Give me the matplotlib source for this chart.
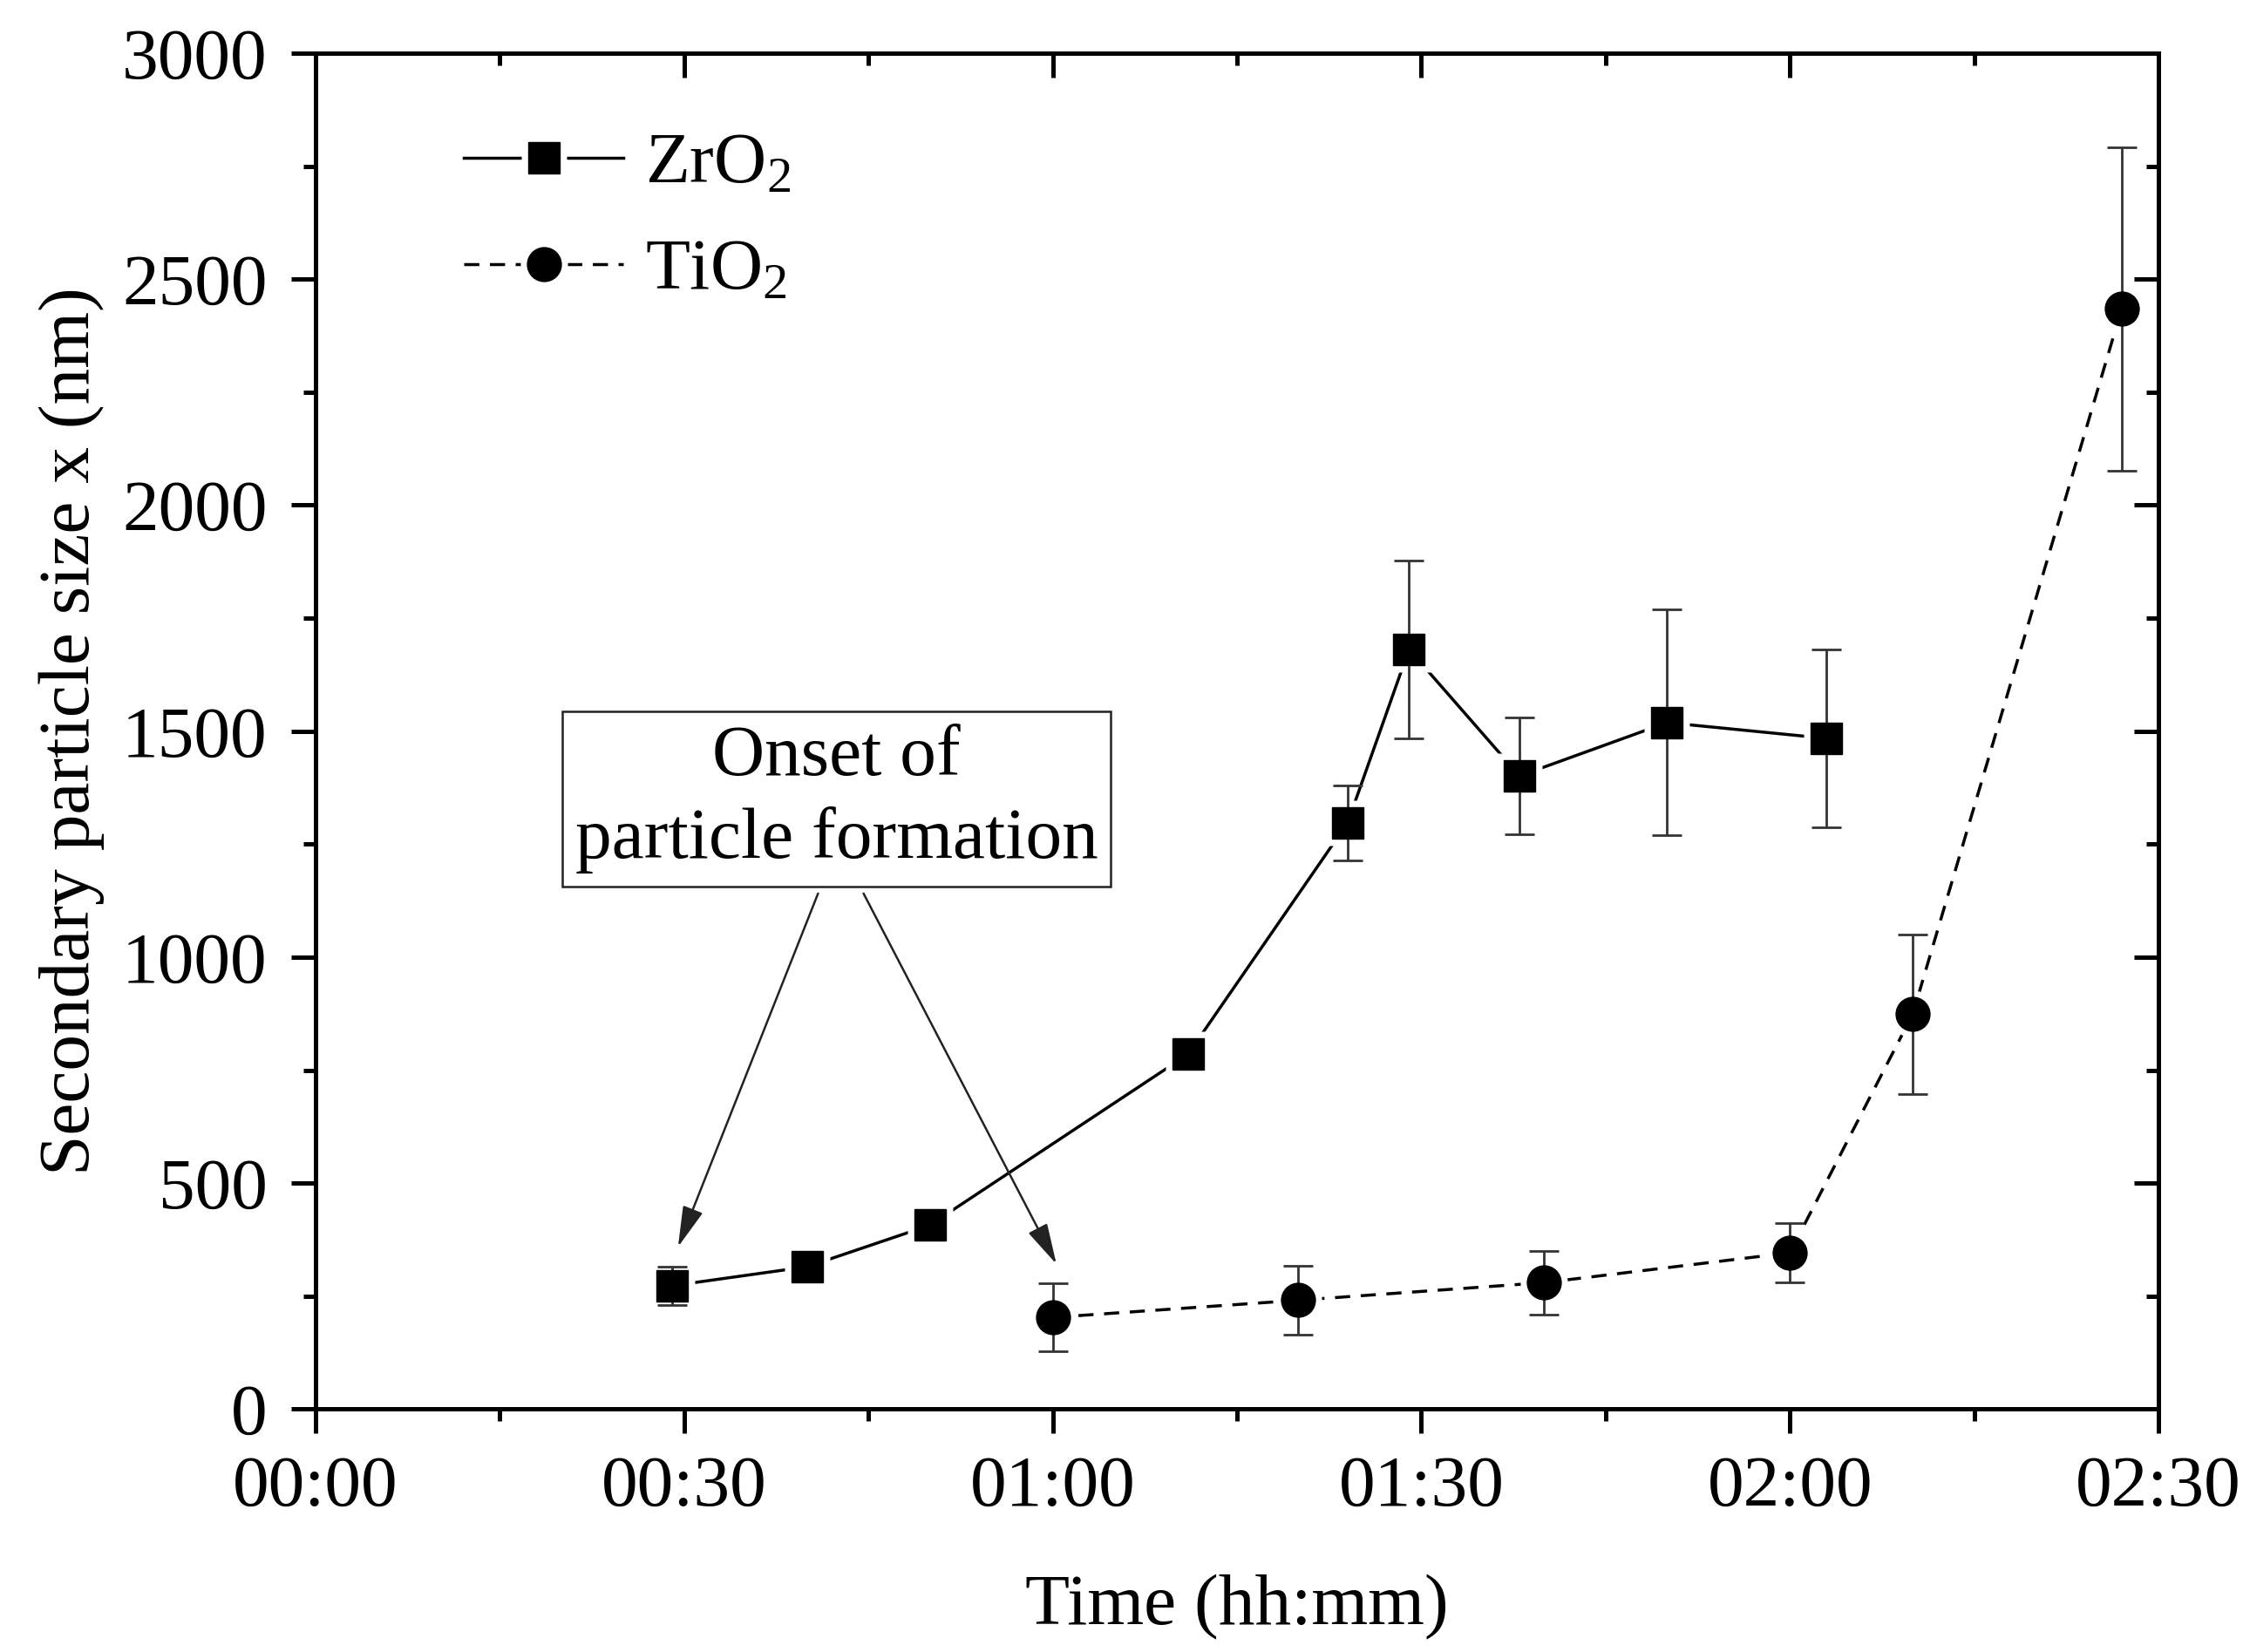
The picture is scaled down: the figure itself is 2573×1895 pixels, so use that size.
import numpy as np
import matplotlib
matplotlib.use('Agg')
import matplotlib.pyplot as plt
from matplotlib.lines import Line2D
from matplotlib.ticker import MultipleLocator, FuncFormatter

plt.rcParams.update({'font.family': ['Liberation Serif', 'DejaVu Serif'],
                     'mathtext.default': 'regular',
                     'font.size': 60})

#%% data (time in minutes, size in nm)
zr_time = [29, 40, 50, 71, 84, 89, 98, 110, 123]
zr_size = [273, 315, 407, 785, 1297, 1681, 1401, 1519, 1484]
zr_err = [43, 4, 4, 4, 83, 197, 129, 250, 197]

ti_time = [60, 80, 100, 120, 130, 147]
ti_size = [203, 241, 280, 346, 874, 2434]
ti_err = [75, 77, 70, 65, 177, 358]

dash = (0, (5, 3.5))
ms_sq, ms_ci = 26, 28
gap = 11  # white halo around markers -> line stops short (Origin look)

#%% plot
fig = plt.figure(figsize=(25.73, 18.95), dpi=100)
ax = fig.add_axes([0.1407, 0.147, 0.8216, 0.8208])

for t, v, e, ls, mk, ms in [(zr_time, zr_size, zr_err, '-', 's', ms_sq),
                            (ti_time, ti_size, ti_err, dash, 'o', ms_ci)]:
    ax.plot(t, v, color='k', ls=ls, lw=2.5, zorder=1)
    ax.plot(t, v, ls='none', marker=mk, ms=ms + gap, mfc='white', mec='none', zorder=2)
    ax.errorbar(t, v, yerr=e, fmt='none', ecolor='#333333', elinewidth=2,
                capsize=12, capthick=2, zorder=3)
    ax.plot(t, v, ls='none', marker=mk, ms=ms, mfc='k', mec='k', zorder=4)

ax.set_xlim(0, 150)
ax.set_ylim(0, 3000)
ax.xaxis.set_major_locator(MultipleLocator(30))
ax.xaxis.set_minor_locator(MultipleLocator(15))
ax.yaxis.set_major_locator(MultipleLocator(500))
ax.yaxis.set_minor_locator(MultipleLocator(250))
ax.xaxis.set_major_formatter(FuncFormatter(lambda v, p: f'{int(v)//60:02d}:{int(v)%60:02d}'))

for s in ax.spines.values():
    s.set_linewidth(3.6)
ax.tick_params(which='both', width=3.6, direction='out', top=False, right=False)
ax.tick_params(which='major', length=20, pad=18)
ax.tick_params(which='minor', length=10)
ax.tick_params(axis='y', which='major', pad=20)
# inward ticks on top and right
ax2 = ax.secondary_xaxis('top')
ax2.xaxis.set_major_locator(MultipleLocator(30))
ax2.xaxis.set_minor_locator(MultipleLocator(15))
ax2.tick_params(which='both', direction='in', width=3.6, labeltop=False)
ax2.tick_params(which='major', length=20)
ax2.tick_params(which='minor', length=10)
ax3 = ax.secondary_yaxis('right')
ax3.yaxis.set_major_locator(MultipleLocator(500))
ax3.yaxis.set_minor_locator(MultipleLocator(250))
ax3.tick_params(which='both', direction='in', width=3.6, labelright=False)
ax3.tick_params(which='major', length=20)
ax3.tick_params(which='minor', length=10)
ax2.spines['top'].set_linewidth(3.6)
ax3.spines['right'].set_linewidth(3.6)

ax.set_xlabel('Time (hh:mm)', labelpad=44)
ax.set_ylabel('Secondary particle size x (nm)', labelpad=14)

# annotation box with two arrows
ax.text(42.4, 1350, 'Onset of\nparticle formation', ha='center', va='center',
        linespacing=1.3, zorder=5,
        bbox=dict(boxstyle='square,pad=0.18', fc='white', ec='#222222', lw=1.8))
arr = dict(arrowstyle='-|>,head_length=0.85,head_width=0.22', color='#222222',
           lw=1.8, mutation_scale=34, shrinkA=0, shrinkB=0)
ax.annotate('', xy=(29.5, 359), xytext=(40.9, 1141), arrowprops=arr)
ax.annotate('', xy=(60.3, 321), xytext=(44.6, 1141), arrowprops=arr)

handles = []
for ls, mk, ms in [('-', 's', ms_sq), (dash, 'o', ms_ci)]:
    halo = Line2D([], [], color='k', lw=2.5, ls=ls, marker=mk, ms=ms + gap,
                  mfc='white', mec='none')
    dot = Line2D([], [], ls='none', marker=mk, ms=ms, mfc='k', mec='k')
    handles.append((halo, dot))
ax.legend(handles, ['ZrO$_2$', 'TiO$_2$'], loc='upper left', frameon=False,
          handlelength=2.2, handletextpad=0.3, labelspacing=0.55,
          borderaxespad=0.5, bbox_to_anchor=(0.045, 0.99))

fig.savefig('out.png', dpi=100)
